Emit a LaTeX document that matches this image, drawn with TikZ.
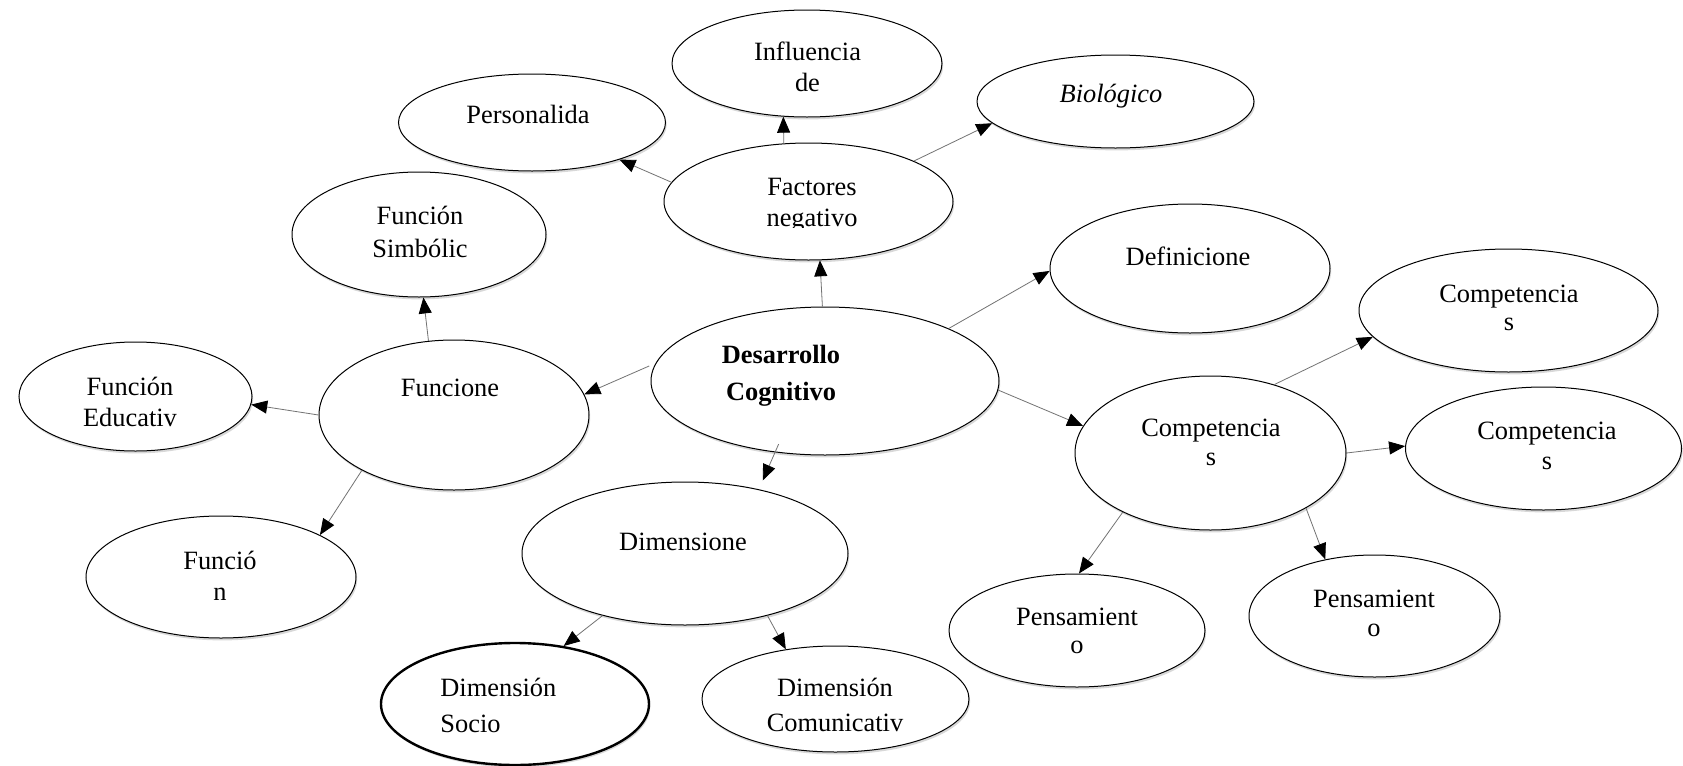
\documentclass[tikz,border=0pt]{standalone}
\usepackage{fontspec}
\setmainfont{Liberation Serif}
\usetikzlibrary{shapes.geometric,arrows.meta,shadows}
\begin{document}
\begin{tikzpicture}[x=0.5pt,y=-0.5pt,
  ell/.style={ellipse,draw=black,line width=0.5pt,fill=white,inner sep=0pt,
     drop shadow={shadow xshift=0.6pt,shadow yshift=-1.2pt,opacity=0.3}},
  lbl/.style={font=\fontsize{13.2}{15.5}\selectfont,inner sep=0pt,align=center},
  conn/.style={draw=black!55,line width=0.4pt,-{Triangle[length=8pt,width=6.5pt,color=black]}}]
\useasboundingbox[fill=white] (0,0) rectangle (1683,766);
% ellipses
\node[ell,minimum width=135pt,minimum height=53.5pt] (influencia) at (807,63.5) {};
\node[ell,minimum width=133.5pt,minimum height=48.5pt] (personalida) at (532,122.5) {};
\node[ell,minimum width=127pt,minimum height=62.5pt] (simbolic) at (419,234.5) {};
\node[ell,minimum width=144.5pt,minimum height=58.5pt] (factores) at (808.5,201.5) {};
\node[ell,minimum width=138.5pt,minimum height=46.5pt] (biologico) at (1115.5,101.5) {};
\node[ell,minimum width=140pt,minimum height=64.5pt] (definicione) at (1190,268.5) {};
\node[ell,minimum width=149.5pt,minimum height=61.5pt] (comptop) at (1508.5,310.5) {};
\node[ell,minimum width=174pt,minimum height=74pt] (desarrollo) at (825,381) {};
\node[ell,minimum width=135pt,minimum height=75pt] (funcione) at (454,415) {};
\node[ell,minimum width=116.5pt,minimum height=54.5pt] (educativ) at (135.5,396.5) {};
\node[ell,minimum width=135pt,minimum height=61pt] (funcion) at (221,577) {};
\node[ell,minimum width=163pt,minimum height=71.5pt] (dimensione) at (685,553.5) {};
\node[ell,line width=1.2pt,minimum width=134pt,minimum height=61pt] (socio) at (515,704) {};
\node[ell,minimum width=133.5pt,minimum height=53pt] (comunicativ) at (835.5,699) {};
\node[ell,minimum width=135.5pt,minimum height=77pt] (compmid) at (1210.5,453) {};
\node[ell,minimum width=138pt,minimum height=61.5pt] (compright) at (1543.5,448.5) {};
\node[ell,minimum width=128pt,minimum height=56.5pt] (pensleft) at (1077,630.5) {};
\node[ell,minimum width=125.5pt,minimum height=61pt] (pensright) at (1374.5,616) {};
% connectors
\draw[conn] (desarrollo.92.3) -- (factores.-79.4);
\draw[conn] (factores.113.5) -- (influencia.-114.6);
\draw[conn] (factores.172.4) -- (personalida.-23.1);
\draw[conn] (factores.21.7) -- (biologico.-170.7);
\draw[conn] (desarrollo.23.4) -- (definicione.181.4);
\draw[conn,shorten <=3.5pt] (desarrollo.174.9) -- (funcione.9.8);
\draw[conn] (funcione.109.8) -- (simbolic.-86.7);
\draw[conn] (funcione.180) -- (educativ.-4.2);
\draw[conn] (funcione.-149) -- (funcion.23.7);
\draw[conn,shorten <=-4.5pt,shorten >=4.8pt] (desarrollo.-125.3) -- (dimensione.41.4);
\draw[conn] (dimensione.-143.7) -- (socio.50.2);
\draw[conn] (dimensione.-37.3) -- (comunicativ.135.8);
\draw[conn] (desarrollo.-3.8) -- (compmid.168);
\draw[conn] (compmid.47.1) -- (comptop.-169.2);
\draw[conn] (compmid.-0.4) -- (compright.179.8);
\draw[conn] (compmid.-146.2) -- (pensleft.88);
\draw[conn] (compmid.-30.1) -- (pensright.131.7);
% labels
\node[lbl,anchor=north] (tinfluencia) at (807.5,38.3) {\strut Influencia\\de};
\node[lbl,anchor=base] (tpersonalida) at (528,123) {Personalida};
\node[lbl,anchor=base] (tbiologico) at (1111,102) {\itshape Biológico};
\begin{scope}
\clip (650,150) rectangle (960,227);
\node[lbl,anchor=north] (tfactores) at (812,173.3) {\strut Factores\\negativo};
\end{scope}
\node[lbl,anchor=north] (tsimbolic) at (420,202.3) {\strut Función\\[1pt]Simbólic};
\node[lbl,anchor=base] (tdefinicione) at (1188,265) {Definicione};
\node[lbl,anchor=north] (tcomptop) at (1509,280.3) {\strut Competencia\\[-1.5pt]s};
\node[lbl,anchor=north,font=\fontsize{13.2}{15.5}\selectfont\bfseries] (tdesarrollo) at (781,341.3) {\strut Desarrollo\\[2.8pt]Cognitivo};
\node[lbl,anchor=base] (tfuncione) at (450,396) {Funcione};
\node[lbl,anchor=north] (teducativ) at (130,373.3) {\strut Función\\Educativ};
\node[lbl,anchor=north] (tfuncion) at (220,547.3) {\strut Funció\\n};
\node[lbl,anchor=base] (tdimensione) at (683,550) {Dimensione};
\node[lbl,anchor=north west,align=left] (tsocio) at (440,674.3) {\strut Dimensión\\[2.5pt]Socio};
\node[lbl,anchor=north] (tcomunicativ) at (835,674.3) {\strut Dimensión\\[2pt]Comunicativ};
\node[lbl,anchor=north] (tcompmid) at (1211,414.3) {\strut Competencia\\[-1pt]s};
\node[lbl,anchor=north] (tcompright) at (1547,417.3) {\strut Competencia\\[-0.5pt]s};
\node[lbl,anchor=north] (tpensleft) at (1077,603.3) {\strut Pensamient\\[-1.5pt]o};
\node[lbl,anchor=north] (tpensright) at (1374,585.3) {\strut Pensamient\\[-1pt]o};
\end{tikzpicture}
\end{document}
